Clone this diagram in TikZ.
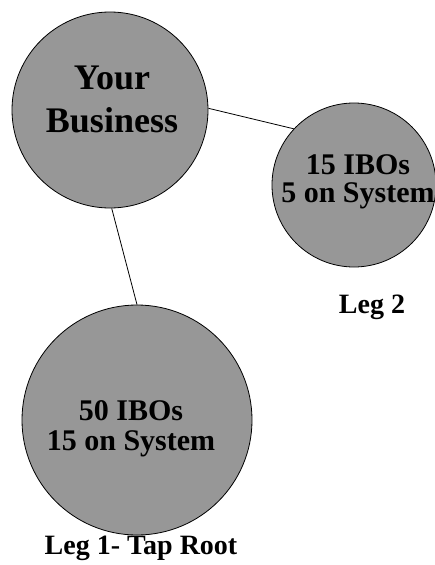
\documentclass[tikz,border=0pt]{standalone}
\usepackage{fontspec}
\setmainfont{Liberation Serif}
\usepackage{tikz}
\usetikzlibrary{positioning}
\definecolor{dither}{HTML}{979797}
\tikzset{
  ball/.style={circle,draw=black,line width=0.8pt,fill=dither,inner sep=0pt},
  balltext/.style={align=center,font=\bfseries,inner sep=0pt},
  leglabel/.style={font=\bfseries\fontsize{28}{30}\selectfont,inner sep=0pt},
  link/.style={black,line width=0.8pt}
}

\begin{document}
\begin{tikzpicture}[x=1pt,y=-1pt]
\path[use as bounding box,fill=white] (0,0) rectangle (434,565);

% The three groups, sized as in the sketch.
\node[ball,minimum size=196pt] (biz) at (110,110) {};
\node[ball,minimum size=164pt] (leg2) at (354,185) {};
\node[ball,minimum size=230pt] (leg1) at (137,420) {};

\node[balltext,font=\bfseries\fontsize{36}{43}\selectfont] (biztext) at (112,99)
  {Your\\Business};
\node[balltext,font=\bfseries\fontsize{30}{28}\selectfont] (leg2text) at (358,182)
  {15 IBOs\\5 on System};
\node[balltext,font=\bfseries\fontsize{30}{30}\selectfont] (leg1text) at (131,429)
  {50 IBOs\\15 on System};

\draw[link] (biz.1) -- (leg2.137);
\draw[link] (biz.-89) -- (leg1.90);

\node[leglabel] (leg2label) at (372,307) {Leg 2};
\node[leglabel] (leg1label) at (141,548) {Leg 1- Tap Root};
\end{tikzpicture}
\end{document}
